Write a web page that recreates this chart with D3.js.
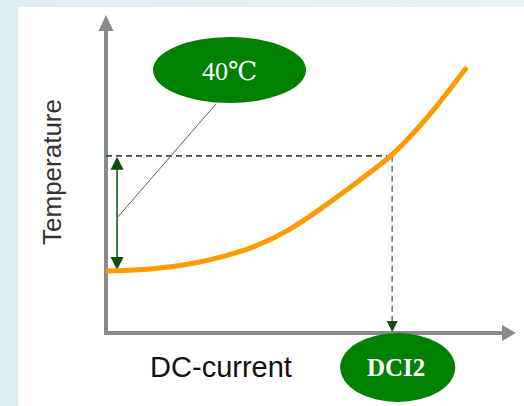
<!DOCTYPE html>
<html><head><meta charset="utf-8">
<script src="https://cdn.jsdelivr.net/npm/d3@7"></script>
<style>
html,body{margin:0;padding:0;}
body{width:524px;height:406px;overflow:hidden;background:#e2f0f3;}
</style></head>
<body>
<script>
// Data (abstract units 0..100)
const currents = [0, 11, 20.5, 35, 45, 53, 61, 69.8, 74.1, 80, 88];
const temps    = [19.5, 20, 21.4, 26, 32.4, 39.6, 47.2, 55.7, 61.6, 70, 83.6];
const baseTemp = 19.5;
const markTemp = 55.7;
const dci2 = 69.8;
const labels = {temp: "40℃", current: "DCI2", xTitle: "DC-current", yTitle: "Temperature"};

const W = 524, H = 406;
const svg = d3.select("body").append("svg").attr("width", W).attr("height", H);

const defs = svg.append("defs");
const grad = defs.append("linearGradient").attr("id","bg").attr("x1","0").attr("x2","1").attr("y1","0").attr("y2","0");
grad.append("stop").attr("offset","0").attr("stop-color","#dcedf1");
grad.append("stop").attr("offset","1").attr("stop-color","#e6f3f5");
svg.append("rect").attr("width",W).attr("height",H).attr("fill","url(#bg)");
svg.append("rect").attr("x",18).attr("y",7).attr("width",W-18).attr("height",H-7).attr("fill","#fff");

const x = d3.scaleLinear().domain([0,100]).range([106,516]);
const y = d3.scaleLinear().domain([0,100]).range([333,15]);

const axisColor = "#8a8a8a";
svg.append("line").attr("x1",x(0)).attr("x2",x(100)-12).attr("y1",y(0)).attr("y2",y(0))
  .attr("stroke",axisColor).attr("stroke-width",4);
svg.append("line").attr("x1",x(0)).attr("x2",x(0)).attr("y1",y(0)+2).attr("y2",y(100)+14)
  .attr("stroke",axisColor).attr("stroke-width",4);
svg.append("path").attr("fill",axisColor)
  .attr("d",`M${x(100)},${y(0)} L${x(100)-14},${y(0)-8} L${x(100)-14},${y(0)+8} Z`);
svg.append("path").attr("fill",axisColor)
  .attr("d",`M${x(0)},${y(100)} L${x(0)-7.5},${y(100)+16} L${x(0)+7.5},${y(100)+16} Z`);

// dashed guides
svg.append("line").attr("x1",x(0)).attr("x2",x(dci2)).attr("y1",y(markTemp)).attr("y2",y(markTemp))
  .attr("stroke","#2f552f").attr("stroke-width",1.6).attr("stroke-dasharray","6,4");
svg.append("line").attr("x1",x(dci2)).attr("x2",x(dci2)).attr("y1",y(markTemp)).attr("y2",y(0)-11)
  .attr("stroke","#777").attr("stroke-width",1.6).attr("stroke-dasharray","6,4");
svg.append("path").attr("fill","#124d12")
  .attr("d",`M${x(dci2)},${y(0)-1} L${x(dci2)-5.5},${y(0)-12} L${x(dci2)+5.5},${y(0)-12} Z`);

// double arrow
const ax = x(2.7);
const yTop = y(markTemp)+1, yBot = y(baseTemp)-1;
svg.append("line").attr("x1",ax).attr("x2",ax).attr("y1",yTop+10).attr("y2",yBot-10)
  .attr("stroke","#0f4d0f").attr("stroke-width",1.5);
svg.append("path").attr("fill","#0f4d0f")
  .attr("d",`M${ax},${yTop} L${ax-6.5},${yTop+13} L${ax+6.5},${yTop+13} Z`);
svg.append("path").attr("fill","#0f4d0f")
  .attr("d",`M${ax},${yBot} L${ax-6.5},${yBot-13} L${ax+6.5},${yBot-13} Z`);

// callout line
svg.append("line").attr("x1",ax).attr("y1",y(36.2)).attr("x2",x(26.8)).attr("y2",y(72))
  .attr("stroke","#4d6b4d").attr("stroke-width",1);

// curve
const pts = currents.map((c,i)=>[c,temps[i]]);
const line = d3.line().x(d=>x(d[0])).y(d=>y(d[1])).curve(d3.curveBasis);
svg.append("path").attr("d",line(pts)).attr("fill","none")
  .attr("stroke","#ff9a00").attr("stroke-width",5).attr("stroke-linecap","butt");

// ellipses
svg.append("ellipse").attr("cx",229.5).attr("cy",70).attr("rx",76.5).attr("ry",33).attr("fill","#008000");
svg.append("text").attr("x",229.5).attr("y",80).attr("text-anchor","middle")
  .attr("font-family","'Liberation Serif','DejaVu Serif','Times New Roman',serif").attr("font-size",26)
  .attr("fill","#fff").text(labels.temp);

svg.append("ellipse").attr("cx",x(dci2)+5.5).attr("cy",367.5).attr("rx",57.5).attr("ry",34.5).attr("fill","#008000");
svg.append("text").attr("x",x(dci2)+4).attr("y",375.5).attr("text-anchor","middle")
  .attr("font-family","'Liberation Serif','Times New Roman',serif").attr("font-size",25).attr("font-weight","bold")
  .attr("fill","#fff").text(labels.current);

// axis titles
svg.append("text").attr("x",221).attr("y",377).attr("text-anchor","middle")
  .attr("font-family","'Liberation Sans',Arial,sans-serif").attr("font-size",29)
  .attr("fill","#111").text(labels.xTitle);
svg.append("text").attr("transform","translate(61,172) rotate(-90)").attr("text-anchor","middle")
  .attr("font-family","'Liberation Sans',Arial,sans-serif").attr("font-size",26)
  .attr("fill","#333").text(labels.yTitle);
</script>
</body></html>
